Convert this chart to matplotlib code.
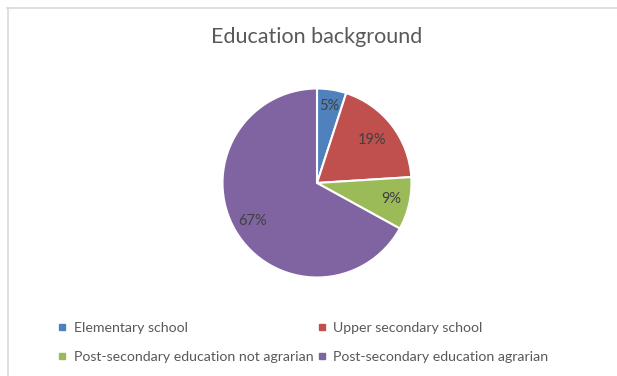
import matplotlib
matplotlib.use("Agg")
import matplotlib.pyplot as plt
from matplotlib.lines import Line2D
import numpy as np

plt.rcParams['font.family'] = ['Lato', 'DejaVu Sans']

categories = ["Elementary school", "Upper secondary school",
              "Post-secondary education not agrarian", "Post-secondary education agrarian"]
values = [5, 19, 9, 67]
labels = ["5%", "19%", "9%", "67%"]
colors = ["#4f81bd", "#c0504d", "#9bbb59", "#8064a2"]
label_dist = [0.83, 0.74, 0.80, 0.79]

W, H = 617, 376
fig = plt.figure(figsize=(W / 100, H / 100), dpi=100)
fig.patch.set_facecolor("white")

# chart border
fig.add_artist(Line2D([7 / W, 1], [1 - 7.5 / H, 1 - 7.5 / H], color="#d9d9d9", lw=1.2))
fig.add_artist(Line2D([7.5 / W, 7.5 / W], [0, 1 - 7.5 / H], color="#d9d9d9", lw=1.2))

cx, cy, r = 317, 183, 94.5
ax = fig.add_axes([(cx - r) / W, 1 - (cy + r) / H, 2 * r / W, 2 * r / H])
wedges, _ = ax.pie(values, colors=colors, startangle=90, counterclock=False,
                   radius=1, wedgeprops=dict(edgecolor="white", linewidth=1.5))
ax.set_xlim(-1, 1)
ax.set_ylim(-1, 1)

for w, lab, d in zip(wedges, labels, label_dist):
    ang = np.deg2rad((w.theta1 + w.theta2) / 2)
    ax.text(d * np.cos(ang), d * np.sin(ang), lab, ha="center", va="center",
            fontsize=10.5, color="#404040")

fig.text(cx / W, 1 - 37 / H, "Education background", ha="center", va="center",
         fontsize=15.5, color="#595959")

handles = [Line2D([], [], marker="s", linestyle="none", markersize=4,
                  markerfacecolor=c, markeredgecolor=c) for c in colors]
order = [0, 2, 1, 3]
fig.legend([handles[i] for i in order], [categories[i] for i in order],
           ncol=2, loc="upper left",
           bbox_to_anchor=(58 / W, 1 - 321.5 / H), frameon=False,
           fontsize=10.2, labelcolor="#595959", handlelength=0.6,
           handletextpad=0.5, columnspacing=0.3, labelspacing=1.25,
           borderpad=0, borderaxespad=0)

fig.savefig("out.png", dpi=100)
